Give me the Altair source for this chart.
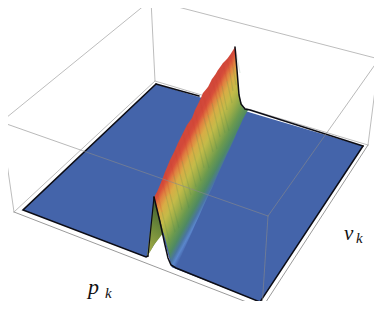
import altair as alt
import pandas as pd

W, H = 366, 293
X = alt.Scale(domain=[8, 374], range=[0, W])
Y = alt.Scale(domain=[8, 301], range=[0, H])

# Values, in picture units
floor_x = [23, 156, 260, 363]
floor_top = [210, 84, 115.5, 146]
floor_bot = [210, 261, 302, 146]

ridge_x = [154, 157, 162, 165, 170, 172, 175, 178, 183, 187, 192, 195, 200, 203, 208, 212, 215, 218, 223, 227, 230, 235, 237, 239, 243, 248]
ridge_top = [197, 192, 180, 172, 160, 156, 150, 143, 133, 125, 118, 110, 100, 93, 87, 79, 75, 70, 63, 59, 55, 47, 70, 95, 108, 110]
ridge_bot = [197, 208, 227, 238, 257, 267, 268, 264, 252, 243, 232, 225, 214, 207, 196, 188, 181, 174, 163, 154, 148, 137, 132, 128, 119, 110]

wedge_x = [147, 154, 164]
wedge_top = [257, 197, 232]
wedge_bot = [257, 245, 232]

gap_x = [146, 162, 171, 172]
gap_top = [258, 232, 265, 268]
gap_bot = [258, 265, 268.5, 268]

back_edge_x = [156, 199]
back_edge_y = [84, 96]
back_edge2_x = [235, 237, 239, 241, 245, 250, 363]
back_edge2_y = [47, 70, 95, 104, 109, 110, 146]
crest_x = [157, 162, 165, 170, 175, 178, 183, 187, 192, 195, 200, 203, 208, 212, 215, 218, 223, 227, 230, 235]
crest_y = [192, 180, 172, 160, 150, 143, 133, 125, 118, 110, 100, 93, 87, 79, 75, 70, 63, 59, 55, 47]
left_edge_x = [156, 23, 146, 148, 154]
left_edge_y = [84, 210, 257, 256, 197]
near_edge_x = [154, 160, 165, 168, 171, 176, 260, 363]
near_edge_y = [197, 222, 245, 258, 265, 268, 302, 146]

box_back = [
    ([1, 151], [122, 0]), ([151, 379], [0, 59]), ([1, 14], [122, 212]),
    ([151, 155], [0, 81]), ([379, 368], [59, 145]), ([14, 155], [212, 81]),
    ([155, 368], [81, 145]),
]
box_floor = [([14, 262], [212, 308]), ([262, 368], [308, 145])]
box_front = [([1, 268], [122, 216]), ([268, 379], [216, 59]), ([268, 262], [216, 308])]

labels = [("p", 88, 294, 22), ("k", 105, 298, 15), ("v", 344, 240, 21), ("k", 356, 243, 15)]

ramp_pos = [0, 0.05, 0.13, 0.24, 0.38, 0.52, 0.66, 0.78, 0.87, 0.93, 1]
ramp_col = ["#d2483a", "#d9503a", "#e08040", "#d9ad45", "#c4bb48", "#9bad48", "#6b9a4e", "#4f8a62", "#4a76a0", "#5a86cc", "#4464aa"]
wedge_pos = [0, 0.5, 1]
wedge_col = ["#3e5a30", "#6e8a3a", "#a8b048"]

streak_dx = [5, 4, 5, 4, 5, 4, 5, 5, 4, 5, 4, 5, 4, 5, 5, 4, 4, 3, 3, 2]
streak_dy = [20, 16, 22, 16, 24, 18, 22, 22, 16, 24, 18, 22, 16, 20, 22, 16, 18, 14, 12, 10]
streak_long_dx = [12, 13, 14, 12, 14, 13, 13, 14, 12, 14, 13, 14, 12, 13, 14, 9, 9, 6, 6, 5]
streak_long_dy = [48, 52, 56, 50, 58, 52, 54, 56, 50, 58, 52, 56, 50, 54, 56, 40, 40, 32, 30, 26]


def line(xs, ys, color, width, opacity=1.0, cap="round"):
    df = pd.DataFrame({"x": xs, "y": ys, "i": range(len(xs))})
    return alt.Chart(df).mark_line(color=color, strokeWidth=width, opacity=opacity, strokeCap=cap).encode(
        x=alt.X("x:Q", scale=X, axis=None), y=alt.Y("y:Q", scale=Y, axis=None), order="i:Q")


def area(xs, top, bot, fill):
    df = pd.DataFrame({"x": xs, "t": top, "b": bot})
    return alt.Chart(df).mark_area(fill=fill, opacity=1, interpolate="linear").encode(
        x=alt.X("x:Q", scale=X, axis=None), y=alt.Y("t:Q", scale=Y, axis=None), y2=alt.Y2("b"))


def gradient(pos, cols, x1, y1, x2, y2):
    return alt.Gradient(gradient="linear", stops=[alt.GradientStop(color=c, offset=p) for p, c in zip(pos, cols)],
                        x1=x1, y1=y1, x2=x2, y2=y2)


def rules(xs, ys, x2s, y2s, color, width, opacity):
    df = pd.DataFrame({"x": xs, "y": ys, "x2": x2s, "y2": y2s})
    return alt.Chart(df).mark_rule(color=color, strokeWidth=width, opacity=opacity).encode(
        x=alt.X("x:Q", scale=X, axis=None), y=alt.Y("y:Q", scale=Y, axis=None), x2=alt.X2("x2"), y2=alt.Y2("y2"))


layers = []
for xs, ys in box_back:
    layers.append(line(xs, ys, "#bdbdbd", 1))
for xs, ys in box_floor:
    layers.append(line(xs, ys, "#9a9a9a", 1))
layers.append(area(floor_x, floor_top, floor_bot, "#4464aa"))
layers.append(area(gap_x, gap_top, gap_bot, "#ffffff"))
layers.append(area(wedge_x, wedge_top, wedge_bot, gradient(wedge_pos, wedge_col, 0.5, 0, 0.3, 1)))
layers.append(area(ridge_x, ridge_top, ridge_bot, gradient(ramp_pos, ramp_col, 0, 0.679, 0.243, 0.988)))

sx = [a + b for a, b in zip(crest_x, streak_dx)]
sy = [a + b for a, b in zip(crest_y, streak_dy)]
lx = [a + b for a, b in zip(crest_x, streak_long_dx)]
ly = [a + b for a, b in zip(crest_y, streak_long_dy)]
layers.append(rules(crest_x, crest_y, sx, sy, "#c8402f", 1.4, 0.18))
layers.append(rules(sx, sy, lx, ly, "#3f7a48", 1.2, 0.16))

layers.append(line(back_edge_x, back_edge_y, "#0c0c14", 1.6))
layers.append(line(back_edge2_x, back_edge2_y, "#0c0c14", 1.5))
layers.append(line(left_edge_x[:4], left_edge_y[:4], "#0c0c14", 1.6))
layers.append(line(left_edge_x[3:5], left_edge_y[3:5], "#0c0c14", 1.2))
layers.append(line(near_edge_x, near_edge_y, "#0c0c14", 1.5))
for xs, ys in box_front:
    layers.append(line(xs, ys, "#8a8a8a", 0.8, 0.75))

for txt, x, y, size in labels:
    df = pd.DataFrame({"x": [x], "y": [y], "t": [txt]})
    layers.append(alt.Chart(df).mark_text(font="Liberation Serif", fontStyle="italic", fontSize=size, align="left",
                                          baseline="alphabetic", color="#111111").encode(
        x=alt.X("x:Q", scale=X, axis=None), y=alt.Y("y:Q", scale=Y, axis=None), text="t:N"))

chart = alt.layer(*layers).properties(width=W, height=H, padding=0, autosize=alt.AutoSizeParams(type="none")).configure_view(stroke=None)
chart.save("out.html", embed_options={"renderer": "svg", "actions": False})
